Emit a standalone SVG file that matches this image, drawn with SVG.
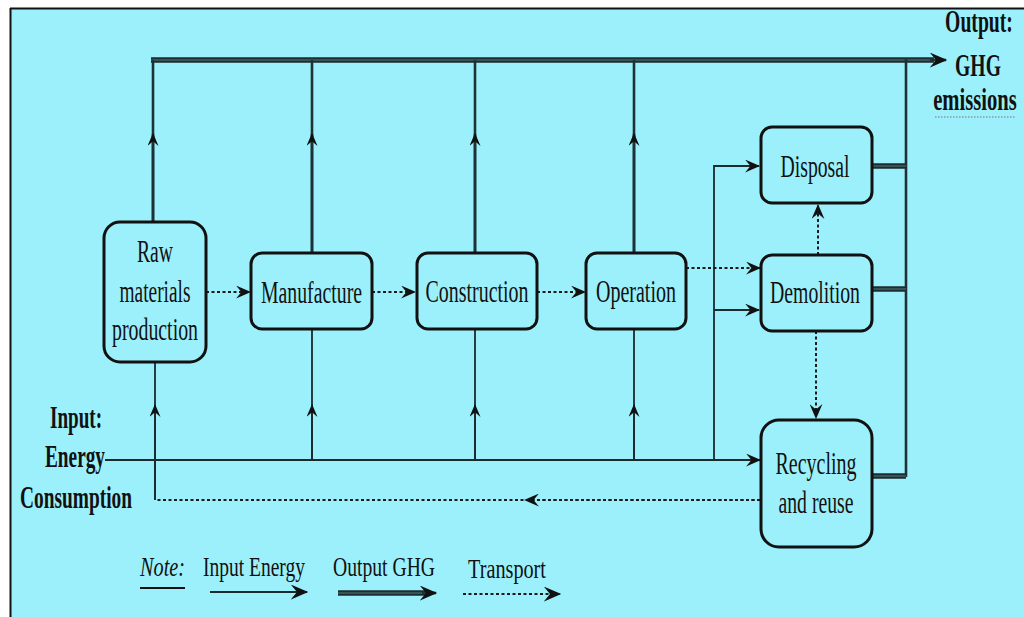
<svg xmlns="http://www.w3.org/2000/svg" width="1024" height="617" viewBox="0 0 1024 617">
<defs>
<style>
.box{fill:none;stroke:#111;stroke-width:3}
.in{fill:none;stroke:#1b2a2d;stroke-width:1.8}
.ghg{fill:none;stroke:#1e3236;stroke-width:2.6}
.ghgT{fill:none;stroke:#1d2c2f;stroke-width:5.5}
.ghgC{fill:none;stroke:#557a80;stroke-width:1}
.tr{fill:none;stroke:#1a1a1a;stroke-width:2;stroke-dasharray:3 2.5}
.lbl{font-family:"Liberation Serif","Times New Roman",serif;font-size:31px;fill:#111;text-anchor:middle}
.bold{font-family:"Liberation Serif","Times New Roman",serif;font-size:31px;font-weight:bold;fill:#111;text-anchor:middle}
.leg{font-family:"Liberation Serif","Times New Roman",serif;font-size:27px;fill:#111}
</style>
<marker id="ah" viewBox="0 0 14 12" refX="13" refY="6" markerWidth="15" markerHeight="13" markerUnits="userSpaceOnUse" orient="auto"><path d="M0,0 L14,6 L0,12 L5,6 Z" fill="#111"/></marker>
<marker id="ahs" viewBox="0 0 14 12" refX="13" refY="6" markerWidth="14" markerHeight="11" markerUnits="userSpaceOnUse" orient="auto"><path d="M0,0 L14,6 L0,12 L5,6 Z" fill="#111"/></marker>
<marker id="ahb" viewBox="0 0 14 12" refX="13" refY="6" markerWidth="18" markerHeight="15" markerUnits="userSpaceOnUse" orient="auto"><path d="M0,0 L14,6 L0,12 L5,6 Z" fill="#111"/></marker>
</defs>
<rect x="0" y="0" width="1024" height="617" fill="#ffffff"/>
<rect x="10" y="8" width="1014" height="609" fill="#9cf0fb"/>
<line x1="10" y1="8.5" x2="1024" y2="8.5" stroke="#111" stroke-width="2"/>
<line x1="10.5" y1="8" x2="10.5" y2="617" stroke="#111" stroke-width="2"/>

<g id="connectors">
  <line class="ghgT" x1="151" y1="60" x2="934" y2="60"/>
  <line class="ghgC" x1="151" y1="60" x2="934" y2="60"/>
  <line class="ghg" x1="930" y1="60" x2="946" y2="60" marker-end="url(#ahb)"/>
  <line class="ghg" x1="153" y1="222" x2="153" y2="60"/>
  <line class="ghg" x1="153" y1="222" x2="153" y2="134" marker-end="url(#ahs)"/>
  <line class="ghg" x1="312" y1="253" x2="312" y2="60"/>
  <line class="ghg" x1="312" y1="253" x2="312" y2="134" marker-end="url(#ahs)"/>
  <line class="ghg" x1="475" y1="253" x2="475" y2="60"/>
  <line class="ghg" x1="475" y1="253" x2="475" y2="134" marker-end="url(#ahs)"/>
  <line class="ghg" x1="634" y1="253" x2="634" y2="60"/>
  <line class="ghg" x1="634" y1="253" x2="634" y2="134" marker-end="url(#ahs)"/>
  <line class="ghg" x1="906" y1="58" x2="906" y2="477" stroke-width="3"/>
  <line class="ghgT" x1="872" y1="166" x2="906" y2="166" stroke-width="4.5"/>
  <line class="ghgC" x1="872" y1="166" x2="906" y2="166"/>
  <line class="ghgT" x1="872" y1="289" x2="906" y2="289" stroke-width="4.5"/>
  <line class="ghgC" x1="872" y1="289" x2="906" y2="289"/>
  <line class="ghgT" x1="872" y1="476" x2="906" y2="476" stroke-width="4.5"/>
  <line class="ghgC" x1="872" y1="476" x2="906" y2="476"/>

  <line class="in" x1="105" y1="460" x2="760" y2="460" marker-end="url(#ah)"/>
  <line class="in" x1="312" y1="460" x2="312" y2="330"/>
  <line class="in" x1="312" y1="460" x2="312" y2="405" marker-end="url(#ahs)"/>
  <line class="in" x1="475" y1="460" x2="475" y2="330"/>
  <line class="in" x1="475" y1="460" x2="475" y2="405" marker-end="url(#ahs)"/>
  <line class="in" x1="634" y1="460" x2="634" y2="330"/>
  <line class="in" x1="634" y1="460" x2="634" y2="405" marker-end="url(#ahs)"/>
  <polyline class="in" points="714,460 714,166 759,166" marker-end="url(#ah)"/>
  <line class="in" x1="714" y1="310" x2="759" y2="310" marker-end="url(#ah)"/>

  <line class="tr" x1="760" y1="500" x2="157" y2="500"/>
  <line class="tr" x1="760" y1="500" x2="525" y2="500" marker-end="url(#ah)"/>
  <line class="in" x1="155" y1="500" x2="155" y2="362"/>
  <line class="in" x1="155" y1="500" x2="155" y2="405" marker-end="url(#ahs)"/>

  <line class="tr" x1="206" y1="292" x2="250" y2="292" marker-end="url(#ah)"/>
  <line class="tr" x1="372" y1="292" x2="415" y2="292" marker-end="url(#ah)"/>
  <line class="tr" x1="537" y1="292" x2="585" y2="292" marker-end="url(#ah)"/>
  <line class="tr" x1="686" y1="268" x2="760" y2="268" marker-end="url(#ah)"/>
  <line class="tr" x1="818" y1="255" x2="818" y2="205" stroke-width="1.6" marker-end="url(#ah)"/>
  <line class="tr" x1="816" y1="331" x2="816" y2="418" stroke-width="1.6" marker-end="url(#ah)"/>
</g>

<g id="raw">
  <rect class="box" x="104" y="222" width="102" height="140" rx="16"/>
  <text class="lbl" x="155" y="262" textLength="36" lengthAdjust="spacingAndGlyphs">Raw</text>
  <text class="lbl" x="155" y="302" textLength="71" lengthAdjust="spacingAndGlyphs">materials</text>
  <text class="lbl" x="155" y="340" textLength="86" lengthAdjust="spacingAndGlyphs">production</text>
</g>
<g id="manufacture">
  <rect class="box" x="251" y="253" width="121" height="76" rx="11"/>
  <text class="lbl" x="311.5" y="303" textLength="101" lengthAdjust="spacingAndGlyphs">Manufacture</text>
</g>
<g id="construction">
  <rect class="box" x="417" y="253" width="120" height="76" rx="11"/>
  <text class="lbl" x="477" y="302" textLength="103" lengthAdjust="spacingAndGlyphs">Construction</text>
</g>
<g id="operation">
  <rect class="box" x="586" y="253" width="100" height="76" rx="11"/>
  <text class="lbl" x="636" y="302" textLength="80" lengthAdjust="spacingAndGlyphs">Operation</text>
</g>
<g id="disposal">
  <rect class="box" x="761" y="127" width="111" height="76" rx="11"/>
  <text class="lbl" x="815" y="177" textLength="69" lengthAdjust="spacingAndGlyphs">Disposal</text>
</g>
<g id="demolition">
  <rect class="box" x="761" y="255" width="111" height="76" rx="11"/>
  <text class="lbl" x="815" y="303" textLength="90" lengthAdjust="spacingAndGlyphs">Demolition</text>
</g>
<g id="recycling">
  <rect class="box" x="761" y="420" width="111" height="127" rx="18"/>
  <text class="lbl" x="816" y="474" textLength="81" lengthAdjust="spacingAndGlyphs">Recycling</text>
  <text class="lbl" x="816" y="513" textLength="75" lengthAdjust="spacingAndGlyphs">and reuse</text>
</g>

<g id="input-label">
  <text class="bold" x="76" y="428" textLength="52" lengthAdjust="spacingAndGlyphs">Input:</text>
  <text class="bold" x="75" y="467" textLength="60" lengthAdjust="spacingAndGlyphs">Energy</text>
  <text class="bold" x="76" y="508" textLength="112" lengthAdjust="spacingAndGlyphs">Consumption</text>
</g>
<g id="output-label">
  <text class="bold" transform="translate(979,32) scale(0.635,1)" x="0" y="0">Output:</text>
  <text class="bold" transform="translate(978,76) scale(0.635,1)" x="0" y="0">GHG</text>
  <text class="bold" transform="translate(975,110) scale(0.665,1)" x="0" y="0">emissions</text>
  <line x1="935" y1="117" x2="1016" y2="117" stroke="#8a9a9c" stroke-width="1.5" stroke-dasharray="1.5 1.5"/>
</g>

<g id="legend">
  <text class="leg" x="140" y="576" font-style="italic" textLength="45" lengthAdjust="spacingAndGlyphs">Note:</text>
  <line x1="140" y1="588" x2="185" y2="588" stroke="#111" stroke-width="2.2"/>
  <text class="leg" x="203" y="576" textLength="102" lengthAdjust="spacingAndGlyphs">Input Energy</text>
  <line class="in" x1="210" y1="592" x2="307" y2="592" marker-end="url(#ahb)"/>
  <text class="leg" x="333" y="576" textLength="102" lengthAdjust="spacingAndGlyphs">Output GHG</text>
  <line class="ghgT" x1="338" y1="593" x2="426" y2="593" stroke-width="5"/>
  <line class="ghgC" x1="338" y1="593" x2="426" y2="593"/>
  <line class="ghg" x1="422" y1="593" x2="436" y2="593" marker-end="url(#ahb)"/>
  <text class="leg" x="468" y="578" textLength="78" lengthAdjust="spacingAndGlyphs">Transport</text>
  <line class="tr" x1="463" y1="594" x2="560" y2="594" marker-end="url(#ahb)"/>
</g>
</svg>
